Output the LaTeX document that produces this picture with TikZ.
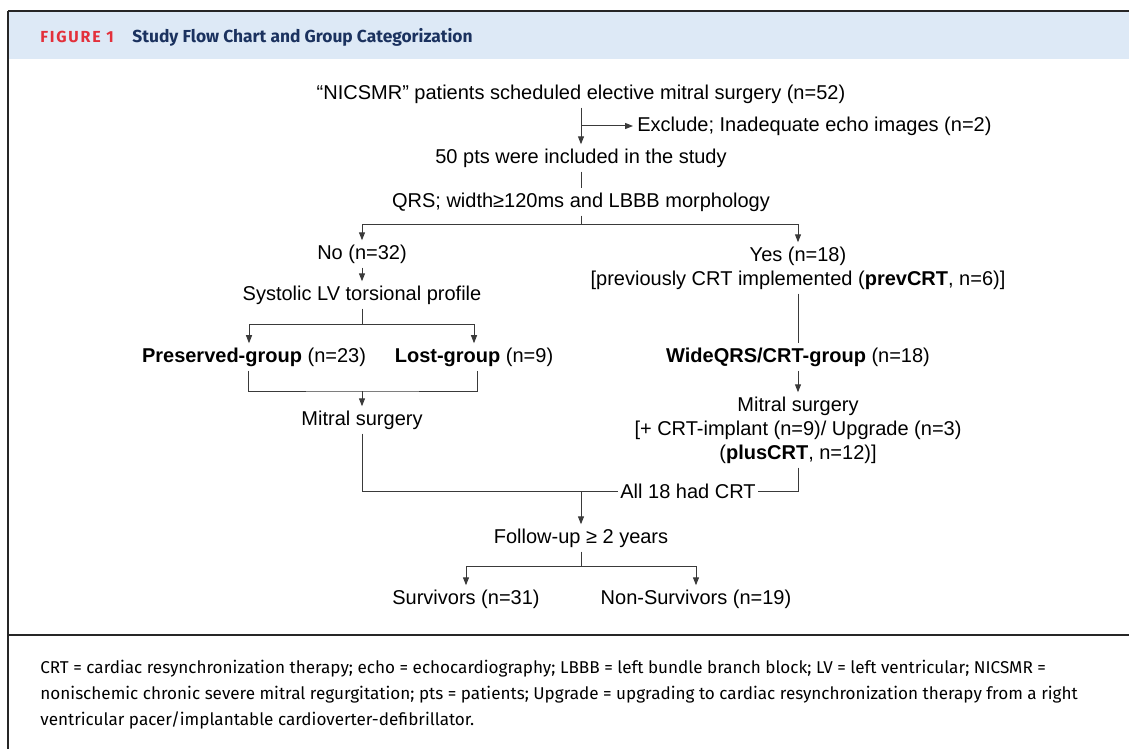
\documentclass[tikz,border=0pt]{standalone}
\usepackage{fontspec}
\setmainfont{Liberation Sans}
\newfontfamily\capfont{Fira Sans}
\usepackage{xcolor}
\usetikzlibrary{arrows.meta}
\definecolor{headblue}{HTML}{DDE9F6}
\definecolor{figred}{HTML}{E3303B}
\definecolor{navy}{HTML}{1B325F}
\definecolor{linegray}{HTML}{3A3A3A}
\tikzset{
  box/.style={inner sep=2pt, align=center, font=\fontsize{10}{12}\selectfont},
  link/.style={line width=0.5pt, draw=linegray},
  arr/.style={link, -{Triangle[length=4pt,width=3pt]}}
}

\begin{document}
\begin{tikzpicture}[x=0.5pt, y=-0.5pt]
\useasboundingbox (0,0) rectangle (1129,749);
%%%%% Frame %%%%%
\fill[white] (0,0) rectangle (1129,749);
\fill[headblue] (8,11) rectangle (1129,59);
\draw[line width=1pt, color=black!85] (8,11)--(1129,11);
\draw[line width=0.8pt, color=black!85] (8,11)--(8,749);
\draw[line width=0.8pt, color=black!85] (8,635)--(1129,635);
\node[anchor=west, inner sep=0pt, text=figred, font=\capfont\bfseries\fontsize{8}{9}\selectfont\addfontfeature{LetterSpace=11}] (fig) at (40,37) {FIGURE 1};
\node[anchor=west, inner sep=0pt, text=navy, font=\capfont\bfseries\fontsize{8.7}{10}\selectfont] (title) at (132,37) {Study Flow Chart and Group Categorization};
%%%%% Flow %%%%%
\node[box] (n52) at (581,94) {“NICSMR” patients scheduled elective mitral surgery (n=52)};
\node[box, anchor=west] (excl) at (633,126) {Exclude; Inadequate echo images (n=2)};
\node[box] (n50) at (581,158) {50 pts were included in the study};
\node[box] (qrs) at (581,202) {QRS; width≥120ms and LBBB morphology};
\node[box] (no) at (362,254) {No (n=32)};
\node[box] (tors) at (362,295) {Systolic LV torsional profile};
\node[box] (pres) at (254,357) {\textbf{Preserved-group} (n=23)};
\node[box] (lost) at (474,357) {\textbf{Lost-group} (n=9)};
\node[box] (ms1) at (362,420) {Mitral surgery};
\node[box] (yes) at (798,268) {Yes (n=18)\\{[previously CRT implemented (\textbf{prevCRT}, n=6)]}};
\node[box] (wide) at (798,357) {\textbf{WideQRS/CRT-group} (n=18)};
\node[box] (ms2) at (798,430) {Mitral surgery\\{[+ CRT-implant (n=9)/ Upgrade (n=3)}\\(\textbf{plusCRT}, n=12)]};
\node[box, inner sep=1pt] (all18) at (688,491) {All 18 had CRT};
\node[box] (fu) at (581,538) {Follow-up ≥ 2 years};
\node[box] (surv) at (466,599) {Survivors (n=31)};
\node[box] (nons) at (696,599) {Non-Survivors (n=19)};
%%%%% Connectors %%%%%
\coordinate (qrsJ) at (581,224);
\coordinate (torsJ) at (362,324);
\coordinate (msJ) at (362,391);
\coordinate (fuJ) at (581,491);
\coordinate (endJ) at (581,566);
\draw[arr] (n52.south)--(n50.north);
\draw[arr] (n52.south |- excl.west)--(excl.west);
\draw[link] (n50.south)--(qrs.north);
\draw[link] (qrs.south)--(qrsJ);
\draw[arr] (qrsJ) -| (no.north);
\draw[arr] (qrsJ) -| (yes.north);
\draw[arr] (no.south)--(tors.north);
\draw[link] (tors.south)--(torsJ);
\draw[arr] (torsJ) -| ([xshift=-2.5pt]pres.north);
\draw[arr] (torsJ) -| (lost.north);
\draw[link] ([xshift=-3pt]pres.south) |- (msJ) -| ([xshift=1.5pt]lost.south);
\draw[arr] (msJ)--(ms1.north);
\draw[link] (yes.south)--(wide.north);
\draw[arr] (wide.south)--(ms2.north);
\draw[link] (ms1.south) |- (all18.west);
\draw[link] (ms2.south) |- (all18.east);
\draw[arr] (fuJ)--(fu.north);
\draw[link] (fu.south)--(endJ);
\draw[arr] (endJ) -| (surv.north);
\draw[arr] (endJ) -| (nons.north);
%%%%% Caption %%%%%
\node[anchor=north west, inner sep=0pt, align=left, font=\capfont\fontsize{8.55}{13}\selectfont] (cap) at (40,660) {CRT = cardiac resynchronization therapy; echo = echocardiography; LBBB = left bundle branch block; LV = left ventricular; NICSMR =\\nonischemic chronic severe mitral regurgitation; pts = patients; Upgrade = upgrading to cardiac resynchronization therapy from a right\\ventricular pacer/implantable cardioverter-defibrillator.};
\end{tikzpicture}
\end{document}
